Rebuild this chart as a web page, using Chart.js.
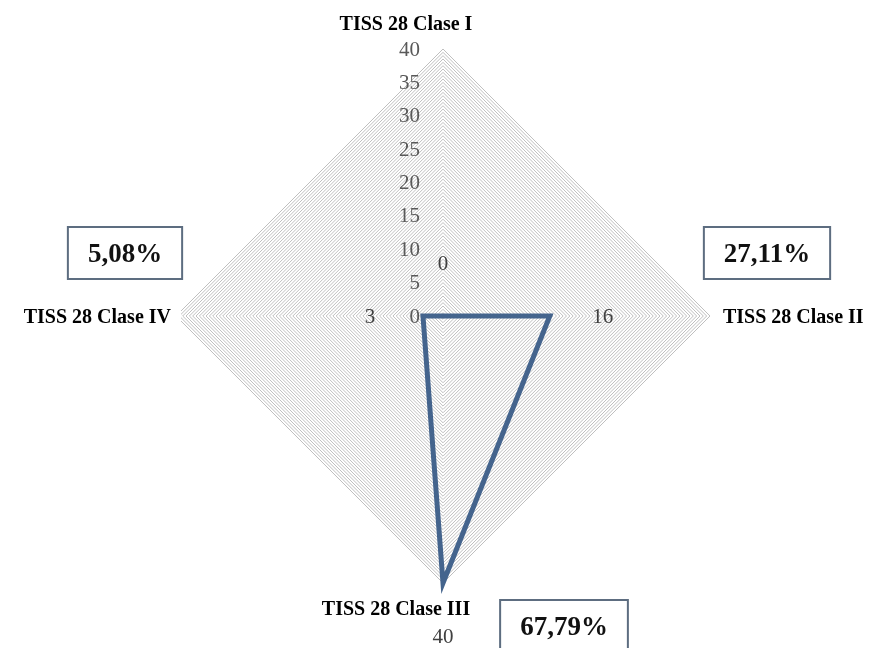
<!DOCTYPE html>
<html>
<head>
<meta charset="utf-8">
<style>
  html, body { margin: 0; padding: 0; background: #ffffff; }
  canvas { display: block; }
</style>
<script src="https://cdn.jsdelivr.net/npm/chart.js@4/dist/chart.umd.min.js"></script>
</head>
<body>
<canvas id="c" width="870" height="648"></canvas>
<script>
// Patients per TISS-28 class
const categories = ['TISS 28 Clase I', 'TISS 28 Clase II', 'TISS 28 Clase III', 'TISS 28 Clase IV'];
const patients = [0, 16, 40, 3];
// Labelled radial ticks; grid rings are drawn every half unit
const scaleTicks = [0, 5, 10, 15, 20, 25, 30, 35, 40];
const scaleMax = 40;
const ringStep = 0.5;

const serif = '"Liberation Serif", "Times New Roman", serif';

// Share of patients per class, truncated to two decimals, Spanish decimal comma
const total = patients.reduce((a, b) => a + b, 0);
const shareText = patients.map(v => (Math.floor(v / total * 10000) / 100).toFixed(2).replace('.', ',') + '%');

// Placement of the class captions and share boxes around each axis tip
const captionStyle = [
  { dx: -37, dy: -25, align: 'center' },
  { dx: 13,  dy: 1,   align: 'left' },
  { dx: -47, dy: 26,  align: 'center' },
  { dx: -5,  dy: 1,   align: 'right' }
];
const shareBox = [
  null,
  { dx: 57,  dy: -63 },
  { dx: 121, dy: 43 },
  { dx: -51, dy: -63 }
];

const radarText = {
  id: 'radarText',
  afterDatasetsDraw(chart) {
    const ctx = chart.ctx;
    const r = chart.scales.r;
    ctx.save();

    // Radial tick labels to the left of the vertical axis
    ctx.font = '21px ' + serif;
    ctx.fillStyle = '#595959';
    ctx.textAlign = 'right';
    ctx.textBaseline = 'middle';
    scaleTicks.forEach(v => {
      const y = r.yCenter - r.getDistanceFromCenterForValue(v);
      ctx.fillText(String(v), r.xCenter - 23, y + 1);
    });

    // Value labels, set out past each data point along its axis
    ctx.fillStyle = '#404040';
    ctx.textAlign = 'center';
    patients.forEach((v, i) => {
      const p = r.getPointPosition(i, r.getDistanceFromCenterForValue(v) + 53);
      ctx.fillText(String(v), p.x, p.y + 1);
    });

    // Class captions with a white backdrop
    ctx.font = 'bold 20px ' + serif;
    categories.forEach((txt, i) => {
      const tip = r.getPointPosition(i, r.drawingArea);
      const s = captionStyle[i];
      const x = tip.x + s.dx, y = tip.y + s.dy;
      const w = ctx.measureText(txt).width;
      let left = x;
      if (s.align === 'center') left = x - w / 2;
      else if (s.align === 'right') left = x - w;
      ctx.fillStyle = '#ffffff';
      ctx.fillRect(left - 10, y - 12, w + 20, 24);
      ctx.fillStyle = '#000000';
      ctx.textAlign = s.align;
      ctx.fillText(txt, x, y + 1);
    });

    // Share boxes
    ctx.font = 'bold 27px ' + serif;
    ctx.textAlign = 'center';
    patients.forEach((v, i) => {
      const b = shareBox[i];
      if (!b) return;
      const tip = r.getPointPosition(i, r.drawingArea);
      const cx = tip.x + b.dx, cy = tip.y + b.dy;
      const txt = shareText[i];
      const w = ctx.measureText(txt).width + 40;
      const h = 52;
      ctx.fillStyle = '#ffffff';
      ctx.fillRect(cx - w / 2, cy - h / 2, w, h);
      ctx.strokeStyle = '#5d6d80';
      ctx.lineWidth = 2;
      ctx.strokeRect(cx - w / 2, cy - h / 2, w, h);
      ctx.fillStyle = '#111111';
      ctx.fillText(txt, cx, cy + 2);
    });

    ctx.restore();
  }
};

new Chart(document.getElementById('c'), {
  type: 'radar',
  data: {
    labels: categories,
    datasets: [{
      data: patients,
      borderColor: '#44648d',
      borderWidth: 5,
      borderJoinStyle: 'miter',
      backgroundColor: 'rgba(0,0,0,0)',
      fill: false,
      pointRadius: 0,
      pointHoverRadius: 0,
      tension: 0
    }]
  },
  options: {
    responsive: false,
    animation: false,
    events: [],
    layout: { padding: { left: 176, right: 160, top: 49, bottom: 65 } },
    plugins: { legend: { display: false }, tooltip: { enabled: false } },
    scales: {
      r: {
        min: 0,
        max: scaleMax,
        ticks: { display: false, stepSize: ringStep },
        grid: { color: '#bfbfbf', lineWidth: 1 },
        angleLines: { display: false },
        pointLabels: { display: false }
      }
    }
  },
  plugins: [radarText]
});
</script>
</body>
</html>
